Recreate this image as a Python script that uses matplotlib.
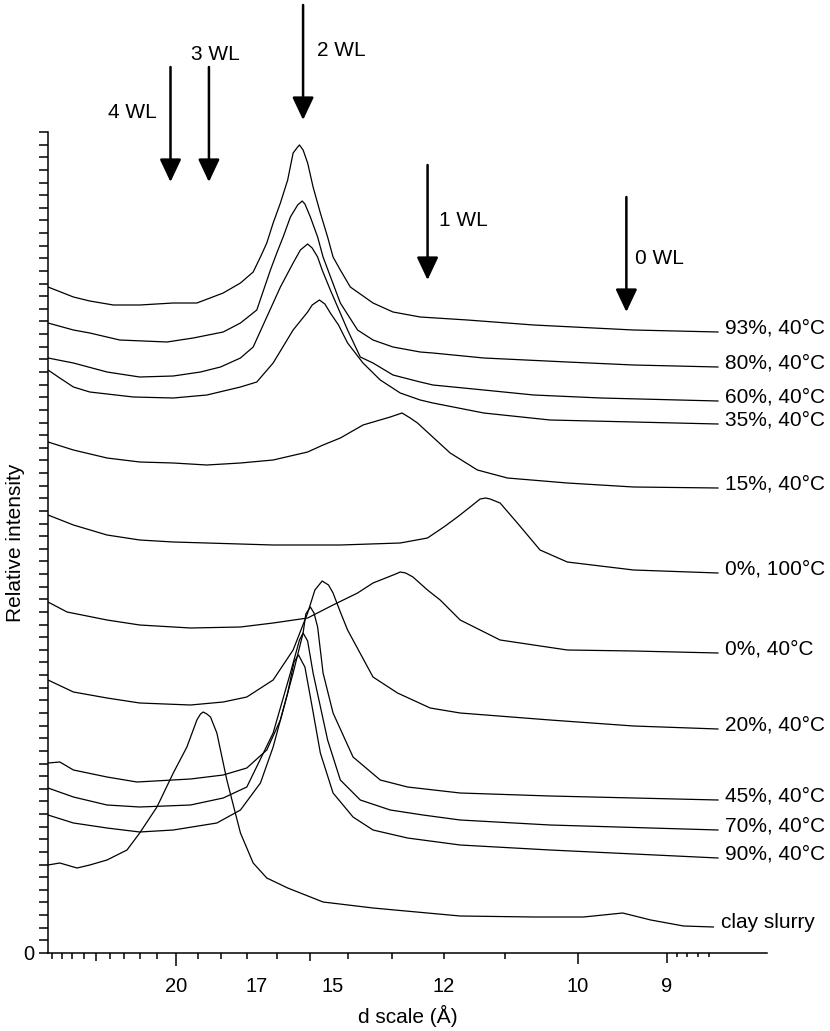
import matplotlib.pyplot as plt
import numpy as np
from matplotlib.transforms import ScaledTranslation

plt.rcParams['font.family'] = ['Liberation Sans', 'DejaVu Sans']

WAVE = 1.5406  # Cu K-alpha, Angstrom


def d_to_2theta(d):
    return 2 * np.degrees(np.arcsin(WAVE / (2 * np.asarray(d, dtype=float))))


# scans: x = 2-theta (deg), y = relative intensity (arb. units, stacked)
tt_93 = [3.00, 3.28, 3.46, 3.72, 4.01, 4.38, 4.64, 4.93, 5.12, 5.26, 5.34, 5.41, 5.48, 5.56,
         5.64, 5.70, 5.75, 5.77, 5.81, 5.86, 5.92, 6.00, 6.08, 6.14, 6.22, 6.33, 6.58, 6.80,
         7.10, 7.62, 8.35, 9.45, 10.38]
i_93 = [666, 656, 652, 648, 648, 650, 650, 660, 670, 681, 696, 710, 730, 750,
        773, 800, 806, 808, 803, 790, 766, 740, 716, 696, 683, 666, 650, 641,
        636, 633, 628, 623, 621]

tt_80 = [3.00, 3.28, 3.46, 3.79, 4.31, 4.60, 4.93, 5.12, 5.30, 5.45, 5.52, 5.59, 5.67, 5.75,
         5.80, 5.83, 5.89, 5.97, 6.03, 6.22, 6.41, 6.58, 6.80, 7.10, 7.24, 7.80, 8.72, 9.45,
         10.38]
i_80 = [630, 623, 620, 613, 611, 615, 621, 630, 643, 683, 700, 716, 736, 748,
        752, 749, 736, 716, 696, 650, 623, 613, 606, 601, 600, 595, 591, 588,
        586]

tt_60 = [3.00, 3.28, 3.65, 4.01, 4.38, 4.68, 4.90, 5.12, 5.26, 5.41, 5.56, 5.70, 5.78, 5.86,
         5.91, 5.97, 6.02, 6.11, 6.30, 6.44, 6.58, 6.80, 7.10, 7.24, 7.80, 8.35, 9.09, 10.38]
i_60 = [595, 590, 581, 576, 577, 581, 586, 595, 606, 636, 666, 690, 703, 709,
        705, 696, 683, 663, 623, 596, 590, 578, 571, 568, 563, 558, 555, 552]

tt_35 = [3.00, 3.13, 3.28, 3.46, 3.94, 4.38, 4.75, 5.12, 5.30, 5.48, 5.70, 5.86, 5.91, 5.99,
         6.05, 6.11, 6.20, 6.30, 6.47, 6.66, 6.88, 7.10, 7.24, 7.80, 8.53, 9.45, 10.38]
i_35 = [583, 575, 566, 561, 556, 555, 558, 566, 571, 590, 623, 641, 648, 653,
        649, 640, 628, 610, 590, 573, 560, 553, 550, 540, 533, 531, 529]

tt_15 = [3.00, 3.28, 3.65, 4.01, 4.38, 4.75, 5.12, 5.48, 5.86, 6.03, 6.22, 6.47, 6.77, 6.90,
         6.99, 7.07, 7.43, 7.73, 8.06, 8.72, 9.45, 10.38]
i_15 = [511, 503, 495, 491, 490, 488, 490, 493, 501, 508, 515, 528, 536, 540,
        535, 530, 500, 483, 475, 470, 466, 465]

tt_0_100 = [3.00, 3.28, 3.65, 4.01, 4.38, 4.75, 5.48, 6.22, 6.88, 7.18, 7.36, 7.51, 7.65, 7.76,
            7.82, 7.87, 7.98, 8.17, 8.42, 8.72, 9.45, 10.38]
i_0_100 = [438, 428, 418, 413, 411, 410, 408, 408, 410, 415, 426, 436, 446, 454,
           455, 454, 450, 430, 403, 391, 383, 380]

tt_0_40 = [3.00, 3.21, 3.65, 4.01, 4.57, 5.12, 5.48, 5.86, 6.14, 6.41, 6.58, 6.83, 6.88, 6.94,
           7.02, 7.18, 7.32, 7.54, 7.98, 8.72, 9.45, 10.38]
i_0_40 = [351, 341, 333, 328, 325, 326, 330, 335, 348, 360, 370, 379, 381, 380,
          376, 363, 353, 333, 313, 303, 302, 300]

tt_20 = [3.00, 3.28, 3.65, 4.01, 4.57, 4.93, 5.19, 5.48, 5.70, 5.86, 5.94, 6.02, 6.09, 6.14,
         6.22, 6.30, 6.58, 6.85, 7.21, 7.54, 8.53, 9.45, 10.38]
i_20 = [273, 261, 255, 250, 248, 251, 256, 273, 303, 340, 363, 372, 368, 360,
        341, 323, 276, 260, 245, 240, 233, 227, 224]

tt_45 = [3.00, 3.13, 3.28, 3.65, 3.98, 4.57, 4.93, 5.19, 5.41, 5.56, 5.70, 5.81, 5.84, 5.89,
         5.93, 5.97, 6.03, 6.14, 6.36, 6.66, 6.96, 7.54, 8.53, 10.38]
i_45 = [190, 191, 183, 176, 171, 174, 178, 185, 203, 233, 280, 320, 339, 346,
        340, 326, 280, 240, 196, 173, 166, 160, 157, 153]

tt_70 = [3.00, 3.28, 3.65, 4.01, 4.57, 4.93, 5.19, 5.48, 5.67, 5.77, 5.81, 5.86, 5.92, 6.08,
         6.22, 6.44, 6.77, 7.13, 7.54, 8.53, 10.38]
i_70 = [165, 156, 148, 146, 148, 155, 166, 220, 280, 313, 320, 312, 280, 213,
        173, 153, 143, 138, 133, 128, 123]

tt_90 = [3.00, 3.28, 3.65, 4.01, 4.38, 4.86, 5.12, 5.34, 5.48, 5.64, 5.71, 5.76, 5.80, 5.83,
         5.91, 6.00, 6.14, 6.36, 6.58, 6.96, 7.54, 8.53, 10.38]
i_90 = [138, 130, 125, 121, 123, 130, 143, 170, 206, 260, 291, 298, 291, 286,
        246, 200, 160, 136, 123, 115, 108, 103, 95]

tt_clay = [3.00, 3.13, 3.32, 3.46, 3.65, 3.87, 4.01, 4.20, 4.38, 4.53, 4.64, 4.68, 4.71, 4.75,
           4.79, 4.86, 4.97, 5.12, 5.26, 5.41, 5.64, 6.03, 6.58, 7.54, 8.35, 8.90, 9.33, 9.64,
           10.00, 10.33]
i_clay = [88, 90, 85, 88, 93, 103, 120, 146, 180, 206, 233, 239, 241, 239,
          236, 220, 173, 120, 90, 75, 65, 51, 45, 37, 36, 36, 40, 33,
          27, 26]

scans = [
    ('93%, 40°C', tt_93, i_93),
    ('80%, 40°C', tt_80, i_80),
    ('60%, 40°C', tt_60, i_60),
    ('35%, 40°C', tt_35, i_35),
    ('15%, 40°C', tt_15, i_15),
    ('0%, 100°C', tt_0_100, i_0_100),
    ('0%, 40°C', tt_0_40, i_0_40),
    ('20%, 40°C', tt_20, i_20),
    ('45%, 40°C', tt_45, i_45),
    ('70%, 40°C', tt_70, i_70),
    ('90%, 40°C', tt_90, i_90),
    ('clay slurry', tt_clay, i_clay),
]

# water-layer markers (d in Angstrom) and arrow tails (intensity units)
wl_names = ['4 WL', '3 WL', '2 WL', '1 WL', '0 WL']
wl_d = [20.3, 18.5, 15.2, 12.3, 9.43]
wl_tail = [886, 886, 948, 788, 756]

tick_d = [20, 17, 15, 12, 10, 9]
minor_d = [29, 28, 27, 26, 25, 24, 23, 22, 21, 19, 18, 16, 14, 13, 11, 8.9, 8.8, 8.7, 8.6]

fig = plt.figure(figsize=(8.3, 10.31), dpi=100)
ax = fig.add_axes([48 / 830, 78 / 1031, 719 / 830, 821 / 1031])

for name, tt, inten in scans:
    ax.plot(tt, inten, color='black', lw=0.9)
    ax.text(tt[-1] + 0.08, inten[-1] + 4, name, fontsize=15, va='center', ha='left')

for name, d, tail in zip(wl_names, wl_d, wl_tail):
    x = d_to_2theta(d)
    ax.annotate('', xy=(x, tail - 115), xytext=(x, tail), annotation_clip=False,
                arrowprops=dict(arrowstyle='-|>,head_length=0.7,head_width=0.33',
                                mutation_scale=20, lw=1.8, color='black',
                                shrinkA=0, shrinkB=0))
    if name == '4 WL':
        off, ha = (-14, -46), 'right'
    elif name == '3 WL':
        off, ha = (6, 13), 'center'
    elif name == '2 WL':
        off, ha = (14, -45), 'left'
    elif name == '1 WL':
        off, ha = (11, -55), 'left'
    else:
        off, ha = (9, -61), 'left'
    ax.annotate(name, xy=(x, tail), xytext=off, textcoords='offset pixels',
                fontsize=15, ha=ha, va='center', annotation_clip=False)

ax.set_xlim(3.0, 10.92)
ax.set_ylim(0, 821)

# x axis: 2-theta scale labelled in d spacing
ax.set_xticks(d_to_2theta(tick_d))
ax.set_xticklabels([str(d) for d in tick_d])
ax.set_xticks(d_to_2theta(minor_d), minor=True)
ax.tick_params(axis='x', which='major', direction='out', width=1.1, labelsize=14.5, pad=14)
ax.tick_params(axis='x', which='minor', direction='out', width=1.1, length=4)
major_len = {20: 9, 17: 4, 15: 6, 12: 4, 10: 8, 9: 7.5}
for d, t in zip(tick_d, ax.xaxis.get_major_ticks()):
    t.tick1line.set_markersize(major_len[d])
for d, t in zip(minor_d, ax.xaxis.get_minor_ticks()):
    if d == 25:
        t.tick1line.set_markersize(6)
    elif d < 9:
        t.tick1line.set_markersize(3)
shift = {17: 9, 15: 23}
for d, lab in zip(tick_d, ax.get_xticklabels()):
    if d in shift:
        lab.set_transform(lab.get_transform() + ScaledTranslation(shift[d] / 100, 0, fig.dpi_scale_trans))

yt = np.linspace(0, 821, 66)
ax.set_yticks(yt)
ax.set_yticklabels(['0'] + [''] * (len(yt) - 1))
ax.tick_params(axis='y', direction='out', length=6.5, width=1.1, labelsize=14.5, pad=3)

ax.spines['top'].set_visible(False)
ax.spines['right'].set_visible(False)
ax.spines['left'].set_linewidth(1.1)
ax.spines['bottom'].set_linewidth(1.1)

ax.set_xlabel('d scale (Å)', fontsize=15)
ax.set_ylabel('Relative intensity', fontsize=15)
ax.xaxis.set_label_coords(0.5, -0.063)
ax.yaxis.set_label_coords(-0.032, 0.5)

fig.savefig('out.png', dpi=100)
